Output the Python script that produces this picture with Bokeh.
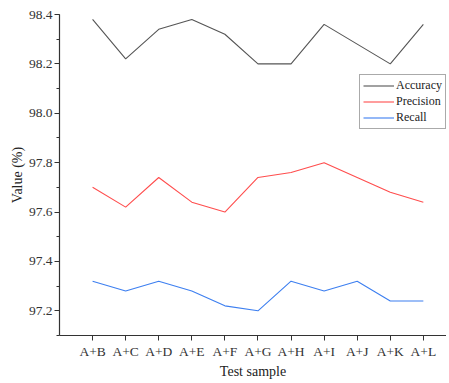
from bokeh.plotting import figure
from bokeh.models import Range1d, FixedTicker, SingleIntervalTicker, PrintfTickFormatter, Legend, LegendItem
from bokeh.embed import file_html
from bokeh.resources import INLINE

samples = ["A+B", "A+C", "A+D", "A+E", "A+F", "A+G", "A+H", "A+I", "A+J", "A+K", "A+L"]
accuracy = [98.38, 98.22, 98.34, 98.38, 98.32, 98.20, 98.20, 98.36, 98.28, 98.20, 98.36]
precision = [97.70, 97.62, 97.74, 97.64, 97.60, 97.74, 97.76, 97.80, 97.74, 97.68, 97.64]
recall = [97.32, 97.28, 97.32, 97.28, 97.22, 97.20, 97.32, 97.28, 97.32, 97.24, 97.24]

xs = list(range(1, len(samples) + 1))
FONT = "Liberation Serif"

p = figure(width=446, height=381, output_backend="svg", toolbar_location=None,
           x_range=Range1d(0, 11.7), y_range=Range1d(97.1, 98.4),
           min_border_left=59, min_border_right=0, min_border_top=14, min_border_bottom=40)
p.outline_line_color = None
p.xgrid.visible = False
p.ygrid.visible = False
p.background_fill_color = "white"

r1 = p.line(xs, accuracy, line_color="#555555", line_width=1.1)
r2 = p.line(xs, precision, line_color="#ff4d4d", line_width=1.1)
r3 = p.line(xs, recall, line_color="#3d7ff0", line_width=1.1)

# x axis
p.xaxis.ticker = FixedTicker(ticks=xs)
p.xaxis.major_label_overrides = {x: s for x, s in zip(xs, samples)}
p.xaxis.axis_label = "Test sample"
# y axis
p.yaxis.ticker = SingleIntervalTicker(interval=0.2, num_minor_ticks=2)
p.yaxis.formatter = PrintfTickFormatter(format="%.1f")
p.yaxis.axis_label = "Value (%)"

for ax in (p.xaxis[0], p.yaxis[0]):
    ax.axis_line_color = "#333333"
    ax.axis_line_width = 1.2
    ax.major_tick_line_color = "#333333"
    ax.minor_tick_line_color = "#333333"
    ax.major_tick_out = 5
    ax.major_tick_in = 0
    ax.minor_tick_out = 3
    ax.minor_tick_in = 0
    ax.major_label_text_font = FONT
    ax.major_label_text_font_size = "13.5px"
    ax.major_label_text_color = "#333333"
    ax.axis_label_text_font = FONT
    ax.axis_label_text_font_size = "14px"
    ax.axis_label_text_font_style = "normal"
    ax.axis_label_text_color = "#222222"
p.xaxis.minor_tick_line_color = None
p.xaxis.major_label_standoff = 3
p.xaxis.axis_label_standoff = 2
p.yaxis.major_label_standoff = 2
p.yaxis.axis_label_standoff = 1

legend = Legend(items=[LegendItem(label="Accuracy", renderers=[r1]),
                       LegendItem(label="Precision", renderers=[r2]),
                       LegendItem(label="Recall", renderers=[r3])],
                location=(300, 206))
legend.label_text_font = FONT
legend.label_text_font_size = "12px"
legend.label_text_color = "#222222"
legend.border_line_color = "#555555"
legend.border_line_width = 1
legend.glyph_width = 31
legend.glyph_height = 15
legend.label_height = 15
legend.spacing = 1
legend.padding = 3
legend.margin = 0
legend.label_standoff = 2
legend.background_fill_alpha = 1
p.add_layout(legend)

open("out.html", "w").write(file_html(p, INLINE))
